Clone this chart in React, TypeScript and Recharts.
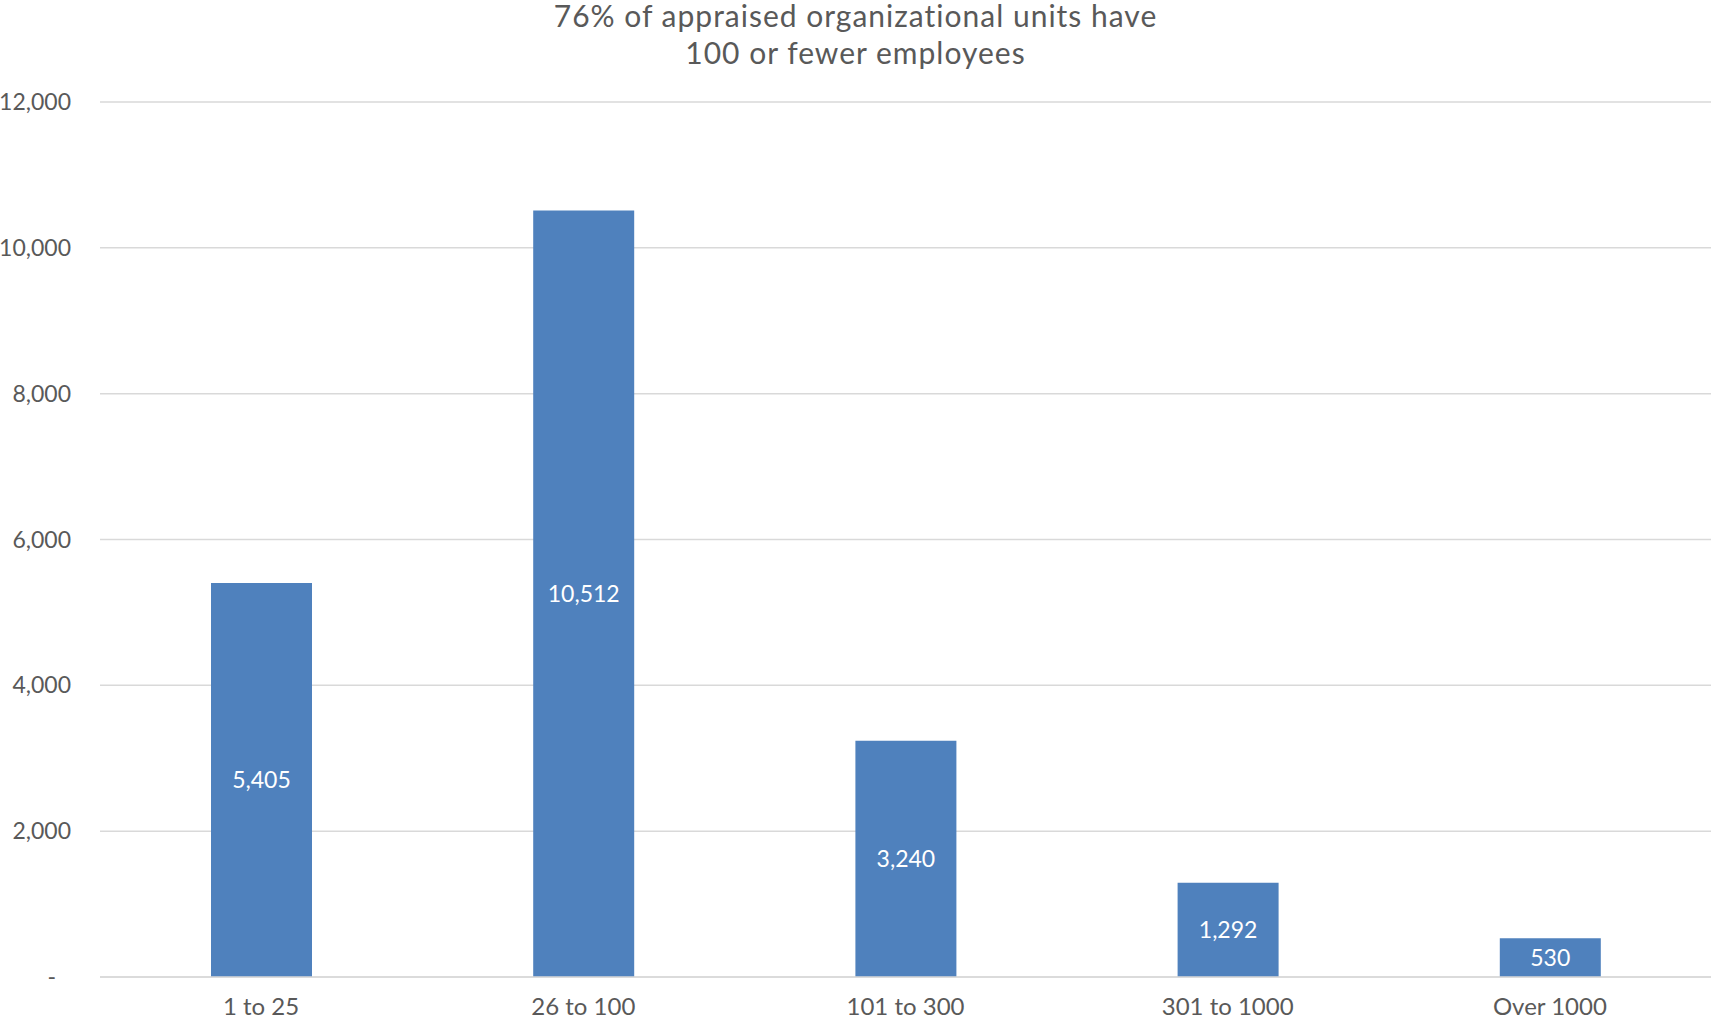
import React from "react";
import { BarChart, Bar, XAxis, YAxis, CartesianGrid, LabelList } from "recharts";

const categories = ["1 to 25", "26 to 100", "101 to 300", "301 to 1000", "Over 1000"];
const unitCounts = [5405, 10512, 3240, 1292, 530];
const yTicks = [0, 2000, 4000, 6000, 8000, 10000, 12000];
const titleLines = ["76% of appraised organizational units have", "100 or fewer employees"];

const data = categories.map((c, i) => ({ name: c, value: unitCounts[i] }));

const FONT = "Lato, 'Noto Sans', sans-serif";
const GREY = "#595959";

const fmt = (v: number) => (v === 0 ? "-" : v.toLocaleString("en-US"));

const YTick = (props: any) => {
  const { x, y, payload } = props;
  const v = payload.value as number;
  return (
    <text
      x={v === 0 ? x - 15 : x}
      y={y}
      dy="0.355em"
      textAnchor="end"
      fill={GREY}
      fontSize={23}
      fontFamily={FONT}
    >
      {fmt(v)}
    </text>
  );
};

export default function App() {
  return (
    <div style={{ position: "absolute", left: 0, top: 0, width: 1711, height: 1024, background: "#fff", fontFamily: FONT }}>
      <div
        style={{
          position: "absolute",
          left: 0,
          top: -3,
          width: 1711,
          textAlign: "center",
          fontSize: 30,
          letterSpacing: "1px",
          lineHeight: "36.5px",
          color: GREY,
          fontFamily: FONT,
        }}
      >
        {titleLines.map((t) => (
          <div key={t}>{t}</div>
        ))}
      </div>
      <BarChart
        width={1711}
        height={1024}
        data={data}
        margin={{ top: 102, right: 0, bottom: 0, left: 0 }}
        barSize={101}
      >
        <CartesianGrid vertical={false} stroke="#d9d9d9" strokeWidth={1.5} />
        <XAxis
          dataKey="name"
          height={47}
          tickLine={false}
          tickSize={0}
          tickMargin={21}
          axisLine={{ stroke: "#d9d9d9", strokeWidth: 1.5 }}
          tick={{ fill: GREY, fontSize: 24, fontFamily: FONT }}
          interval={0}
        />
        <YAxis
          width={100}
          domain={[0, 12000]}
          ticks={yTicks}
          axisLine={false}
          tickLine={false}
          tickSize={0}
          tickMargin={29}
          tick={<YTick />}
          interval={0}
        />
        <Bar dataKey="value" fill="#4f81bd" isAnimationActive={false}>
          <LabelList
            dataKey="value"
            position="center"
            formatter={(v: number) => v.toLocaleString("en-US")}
            style={{ fill: "#ffffff", fontSize: 23, fontFamily: FONT }}
          />
        </Bar>
      </BarChart>
    </div>
  );
}
